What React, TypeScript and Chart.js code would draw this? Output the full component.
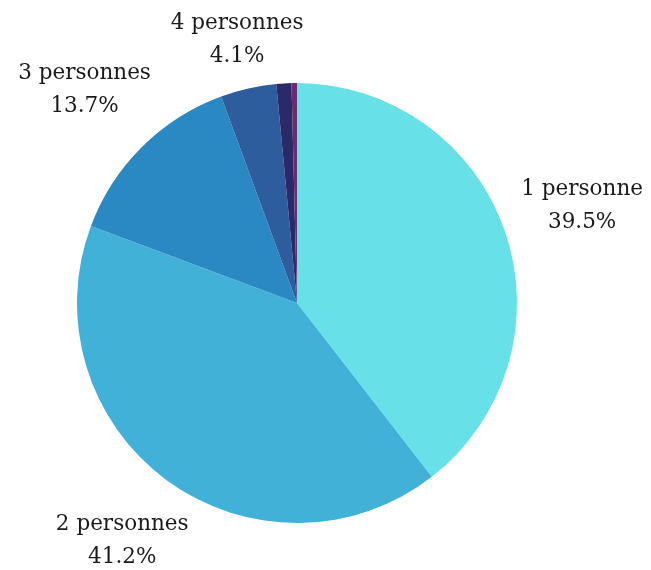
import React, { useEffect, useRef } from "react";
import { Chart, registerables } from "chart.js";

Chart.register(...registerables);

const categories = ["1 personne", "2 personnes", "3 personnes", "4 personnes", "5 personnes", "6 personnes et plus"];
const shares = [39.5, 41.2, 13.7, 4.1, 1.1, 0.4];
const shownLabels = [true, true, true, true, false, false];
const colors = ["#67e1e7", "#42b1d7", "#2a88c3", "#2d5d9c", "#2b2a68", "#6a2c6c"];
const labelDistances = [1.37, 1.34, 1.37, 1.23, 1.3, 1.3];

const labelPlugin = {
  id: "outerLabels",
  afterDatasetsDraw(chart: any) {
    const ctx = chart.ctx;
    const meta = chart.getDatasetMeta(0);
    ctx.save();
    ctx.font = "21.5px 'DejaVu Serif'";
    ctx.fillStyle = "#1a1a1a";
    ctx.textAlign = "center";
    ctx.textBaseline = "middle";
    meta.data.forEach((arc: any, i: number) => {
      if (!shownLabels[i]) return;
      const mid = (arc.startAngle + arc.endAngle) / 2;
      const r = arc.outerRadius * labelDistances[i];
      const x = arc.x + Math.cos(mid) * r;
      const y = arc.y + Math.sin(mid) * r;
      ctx.fillText(categories[i], x, y - 16);
      ctx.fillText(shares[i].toFixed(1) + "%", x, y + 17);
    });
    ctx.restore();
  },
};

export default function App() {
  const ref = useRef<HTMLCanvasElement>(null);
  useEffect(() => {
    document.body.style.margin = "0";
    const chart = new Chart(ref.current!, {
      type: "pie",
      data: {
        labels: categories,
        datasets: [
          {
            data: shares,
            backgroundColor: colors,
            borderWidth: 0,
          },
        ],
      },
      options: {
        animation: false,
        responsive: false,
        layout: { padding: { left: 77, right: 134, top: 83, bottom: 47 } },
        plugins: { legend: { display: false }, tooltip: { enabled: false } },
      },
      plugins: [labelPlugin],
    });
    return () => chart.destroy();
  }, []);
  return (
    <div style={{ position: "absolute", left: 0, top: 0, width: 651, height: 570, background: "#fff" }}>
      <canvas ref={ref} width={651} height={570} />
    </div>
  );
}
